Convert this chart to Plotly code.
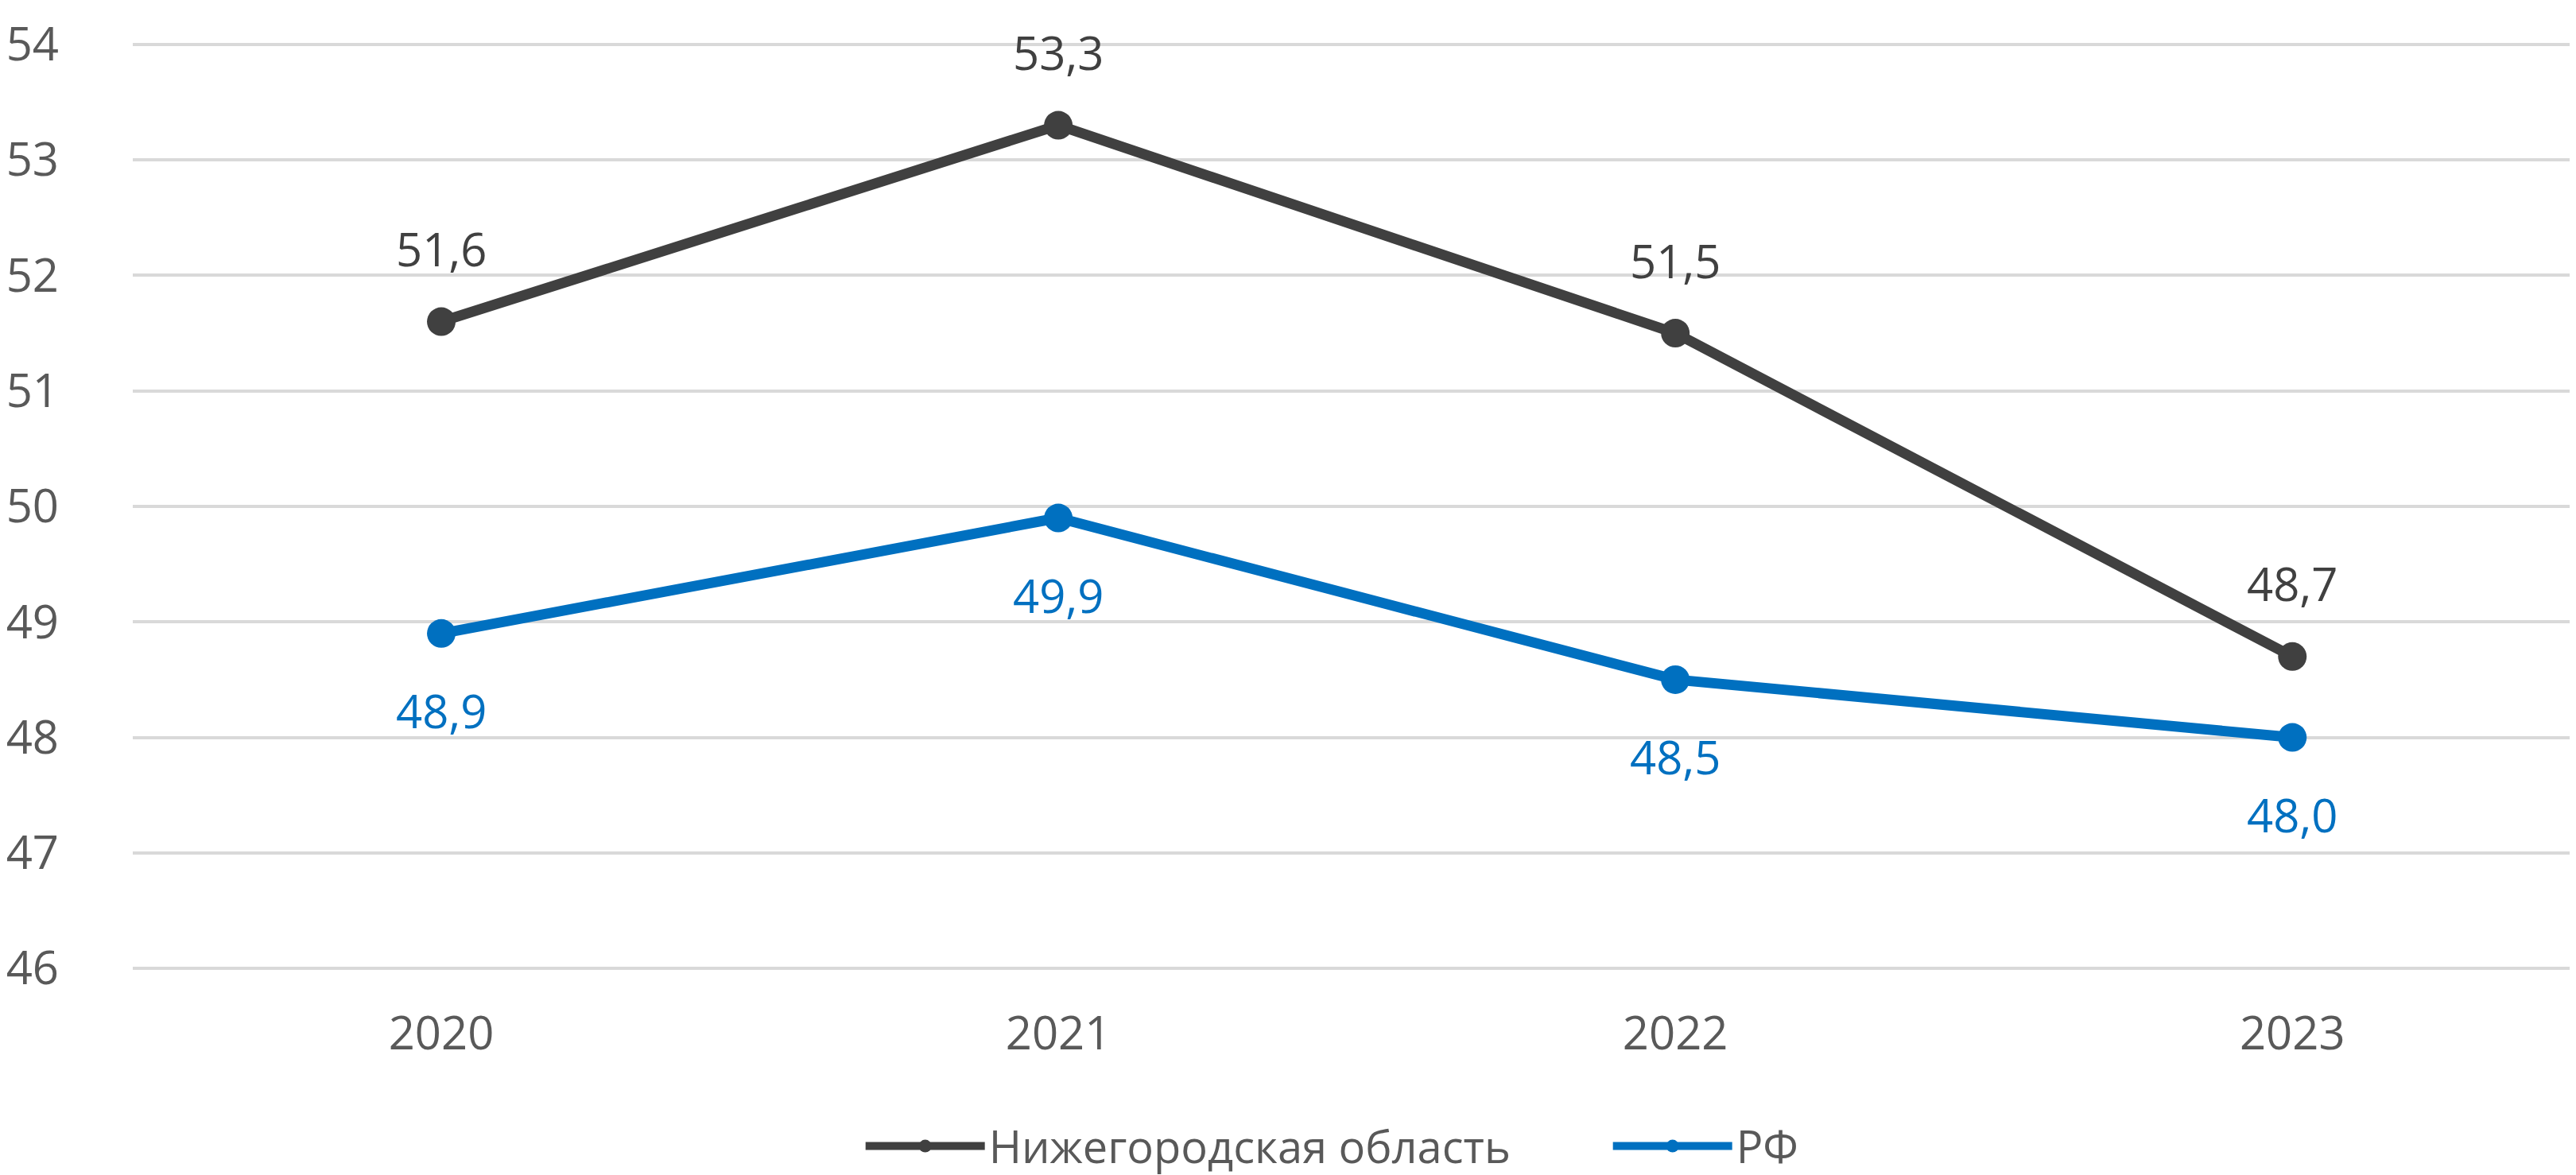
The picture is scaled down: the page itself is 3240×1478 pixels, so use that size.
import plotly.graph_objects as go

FONT = "Open Sans"
COLOR_NN = "#404040"
COLOR_RF = "#0070C0"
COLOR_TICK = "#595959"
COLOR_GRID = "#D9D9D9"

years = ["2020", "2021", "2022", "2023"]
nizhny = [51.6, 53.3, 51.5, 48.7]
rf = [48.9, 49.9, 48.5, 48.0]
y_ticks = [46, 47, 48, 49, 50, 51, 52, 53, 54]


def fmt(v):
    return f"{v:.1f}".replace(".", ",")


fig = go.Figure()
fig.add_trace(go.Scatter(
    x=years, y=nizhny, name="Нижегородская область",
    mode="lines+markers",
    line=dict(color=COLOR_NN, width=13),
    marker=dict(size=36, color=COLOR_NN),
))
fig.add_trace(go.Scatter(
    x=years, y=rf, name="РФ",
    mode="lines+markers",
    line=dict(color=COLOR_RF, width=13),
    marker=dict(size=36, color=COLOR_RF),
))

# data labels: on a category axis annotations take the category index
for i, v in enumerate(nizhny):
    fig.add_annotation(x=i, y=v, text=fmt(v), showarrow=False, yshift=92,
                       font=dict(size=58, color=COLOR_NN, family=FONT))
for i, v in enumerate(rf):
    fig.add_annotation(x=i, y=v, text=fmt(v), showarrow=False, yshift=-97,
                       font=dict(size=58, color=COLOR_RF, family=FONT))

fig.update_layout(
    width=3240,
    height=1478,
    paper_bgcolor="white",
    plot_bgcolor="white",
    font=dict(family=FONT, color=COLOR_TICK, size=58),
    margin=dict(l=152, r=0, t=45, b=265),
    xaxis=dict(
        type="category",
        range=[-0.5, 3.47],
        showgrid=False,
        showline=False,
        ticks="",
        tickfont=dict(size=58, color=COLOR_TICK),
        ticklabelstandoff=40,
    ),
    yaxis=dict(
        range=[45.98, 54.02],
        tickvals=y_ticks,
        showgrid=True,
        gridcolor=COLOR_GRID,
        gridwidth=4,
        zeroline=False,
        showline=False,
        ticks="",
        tickfont=dict(size=58, color=COLOR_TICK),
        ticklabelstandoff=92,
    ),
    showlegend=True,
    legend=dict(
        orientation="h",
        xref="container", yref="container",
        x=0.332, y=0.03, xanchor="left", yanchor="middle",
        itemwidth=150,
        entrywidth=775,
        font=dict(size=56, color=COLOR_TICK),
    ),
)

fig.write_html("out.html")
